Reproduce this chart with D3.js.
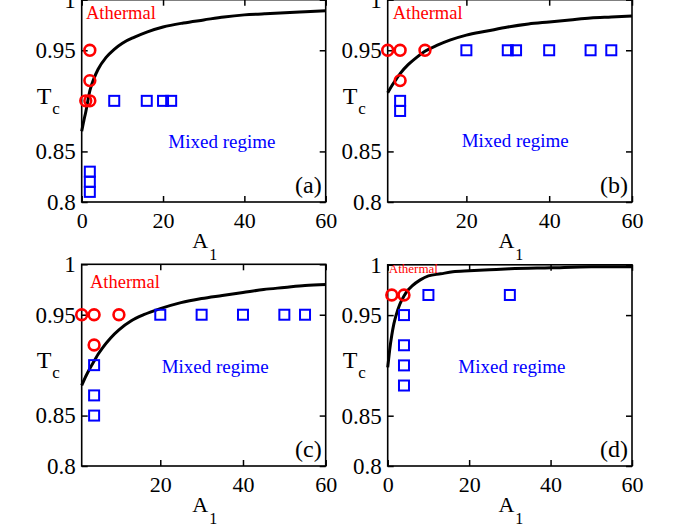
<!DOCTYPE html>
<html>
<head>
<meta charset="utf-8">
<script src="https://cdn.jsdelivr.net/npm/d3@7"></script>
<style>
  html, body { margin: 0; padding: 0; background: #fff; }
  svg { display: block; }
  text { font-family: "Liberation Serif", "Times New Roman", serif; }
</style>
</head>
<body>
<svg id="chart" width="681" height="526"></svg>
<script>
// ---------- data ----------
const panelLabels = ["(a)", "(b)", "(c)", "(d)"];
const xTicksFull = [0, 20, 40, 60];
const xTicksNoZero = [20, 40, 60];
const yTicks = [0.8, 0.85, 0.95, 1];
const yTickLabels = ["0.8", "0.85", "0.95", "1"];

// panel (a)
const athermA_a = [1, 2, 2, 2];
const athermT_a = [0.90, 0.90, 0.92, 0.95];
const mixedA_a = [8, 16, 20, 22, 2, 2, 2];
const mixedT_a = [0.90, 0.90, 0.90, 0.90, 0.83, 0.82, 0.81];
const curveA_a = [0, 0.5, 1, 2, 3, 4, 6, 8, 10, 13, 16, 20, 25, 30, 35, 40, 45, 50, 55, 60];
const curveT_a = [0.870, 0.880, 0.889, 0.910, 0.922, 0.931, 0.943, 0.951, 0.957, 0.963, 0.968, 0.973, 0.977, 0.980, 0.983, 0.985, 0.986, 0.987, 0.988, 0.989];

// panel (b)
const athermA_b = [1, 4, 10, 4];
const athermT_b = [0.95, 0.95, 0.95, 0.92];
const mixedA_b = [4, 4, 20, 30, 32, 40, 50, 55];
const mixedT_b = [0.90, 0.89, 0.95, 0.95, 0.95, 0.95, 0.95, 0.95];
const curveA_b = [1, 2, 3, 4, 6, 8, 10, 13, 16, 20, 25, 30, 35, 40, 45, 50, 55, 60];
const curveT_b = [0.908, 0.915, 0.921, 0.927, 0.936, 0.943, 0.949, 0.955, 0.960, 0.965, 0.969, 0.973, 0.976, 0.978, 0.980, 0.982, 0.983, 0.984];

// panel (c)
const athermA_c = [1, 4, 10, 4];
const athermT_c = [0.95, 0.95, 0.95, 0.92];
const mixedA_c = [4, 4, 4, 20, 30, 40, 50, 55];
const mixedT_c = [0.90, 0.87, 0.85, 0.95, 0.95, 0.95, 0.95, 0.95];
const curveA_c = [1, 2, 3, 4, 5, 6, 8, 10, 13, 16, 20, 25, 30, 35, 40, 45, 50, 55, 60];
const curveT_c = [0.880, 0.889, 0.897, 0.904, 0.911, 0.917, 0.927, 0.935, 0.944, 0.950, 0.956, 0.962, 0.966, 0.969, 0.972, 0.975, 0.977, 0.979, 0.980];

// panel (d)
const athermA_d = [1, 4];
const athermT_d = [0.97, 0.97];
const mixedA_d = [4, 4, 4, 4, 10, 30];
const mixedT_d = [0.95, 0.92, 0.90, 0.88, 0.97, 0.97];
const curveA_d = [0, 0.25, 0.5, 1, 1.5, 2, 3, 4, 5, 6, 8, 10, 13, 16, 20, 25, 30, 40, 50, 60];
const curveT_d = [0.898, 0.907, 0.916, 0.930, 0.941, 0.949, 0.961, 0.969, 0.975, 0.979, 0.985, 0.989, 0.991, 0.993, 0.994, 0.995, 0.996, 0.997, 0.998, 0.998];

// ---------- layout ----------
const panels = [
  { label: panelLabels[0], L: 81.7, R: 325.7, T: -0.3, B: 202, xmin: 0, xt: xTicksFull,
    aA: athermA_a, aT: athermT_a, mA: mixedA_a, mT: mixedT_a, cA: curveA_a, cT: curveT_a,
    ath: { x: 86, y: 19.3, size: 18.5 }, mix: { x: 168.3, y: 148.3 } },
  { label: panelLabels[1], L: 387.7, R: 632, T: -0.3, B: 202, xmin: 1, xt: xTicksNoZero,
    aA: athermA_b, aT: athermT_b, mA: mixedA_b, mT: mixedT_b, cA: curveA_b, cT: curveT_b,
    ath: { x: 392.7, y: 19.3, size: 18.5 }, mix: { x: 461.7, y: 146.7 } },
  { label: panelLabels[2], L: 81.7, R: 325.7, T: 264.3, B: 466, xmin: 1, xt: xTicksNoZero,
    aA: athermA_c, aT: athermT_c, mA: mixedA_c, mT: mixedT_c, cA: curveA_c, cT: curveT_c,
    ath: { x: 90, y: 287.7, size: 18.5 }, mix: { x: 161.7, y: 372.5 } },
  { label: panelLabels[3], L: 387.7, R: 632, T: 264.8, B: 466, xmin: 0, xt: xTicksFull,
    aA: athermA_d, aT: athermT_d, mA: mixedA_d, mT: mixedT_d, cA: curveA_d, cT: curveT_d,
    ath: { x: 388.8, y: 272.5, size: 13 }, mix: { x: 458.3, y: 373.3 } }
];

const svg = d3.select("#chart");
const RED = "#ff0000", BLUE = "#0000ff";

panels.forEach(p => {
  const x = d3.scaleLinear().domain([p.xmin, 60]).range([p.L, p.R]);
  const y = d3.scaleLinear().domain([0.8, 1]).range([p.B, p.T]);
  const g = svg.append("g");

  // axes (ticks inward)
  const left = g.append("g").attr("transform", `translate(${p.L},0)`)
    .call(d3.axisLeft(y).tickValues(yTicks).tickSizeInner(-6).tickSizeOuter(0).tickPadding(6)
      .tickFormat((d, i) => yTickLabels[i]));
  const right = g.append("g").attr("transform", `translate(${p.R},0)`)
    .call(d3.axisRight(y).tickValues(yTicks).tickSizeInner(-6).tickSizeOuter(0).tickFormat(""));
  const bottom = g.append("g").attr("transform", `translate(0,${p.B})`)
    .call(d3.axisBottom(x).tickValues(p.xt).tickSizeInner(-6).tickSizeOuter(0).tickPadding(10)
      .tickFormat(d3.format("d")));
  const top = g.append("g").attr("transform", `translate(0,${p.T})`)
    .call(d3.axisTop(x).tickValues(p.xt).tickSizeInner(-6).tickSizeOuter(0).tickFormat(""));
  [left, right, bottom, top].forEach(a => {
    a.select(".domain").remove();
    a.selectAll(".tick line").attr("stroke", "#000").attr("stroke-width", 1.5);
  });
  left.selectAll(".tick text").attr("font-size", 23).attr("fill", "#000")
    .attr("font-family", "Liberation Serif");
  bottom.selectAll(".tick text").attr("font-size", 22).attr("fill", "#000")
    .attr("font-family", "Liberation Serif").attr("dy", "0.71em");

  // frame
  g.append("rect").attr("x", p.L).attr("y", p.T).attr("width", p.R - p.L).attr("height", p.B - p.T)
    .attr("fill", "none").attr("stroke", "#000").attr("stroke-width", 1.6);

  // axis titles
  const yl = g.append("text").attr("x", p.L - 45).attr("y", y(0.9) + 3)
    .attr("font-size", 24).attr("fill", "#000");
  yl.append("tspan").text("T");
  yl.append("tspan").attr("dx", 1).attr("dy", 10).attr("font-size", 17).text("c");

  const xl = g.append("text").attr("x", (p.L + p.R) / 2 + 1).attr("y", p.B + 46)
    .attr("text-anchor", "middle").attr("font-size", 22).attr("fill", "#000");
  xl.append("tspan").text("A");
  xl.append("tspan").attr("dx", 1).attr("dy", 12).attr("font-size", 16).text("1");

  // curve
  const line = d3.line().x(d => x(d[0])).y(d => y(d[1])).curve(d3.curveMonotoneX);
  g.append("path").datum(p.cA.map((a, i) => [a, p.cT[i]]))
    .attr("d", line).attr("fill", "none").attr("stroke", "#000").attr("stroke-width", 3);

  // mixed regime squares
  const s = 10;
  g.selectAll("rect.sq").data(p.mA.map((a, i) => [a, p.mT[i]])).enter().append("rect")
    .attr("class", "sq")
    .attr("x", d => x(d[0]) - s / 2).attr("y", d => y(d[1]) - s / 2)
    .attr("width", s).attr("height", s)
    .attr("fill", "none").attr("stroke", BLUE).attr("stroke-width", 2);

  // athermal circles
  g.selectAll("circle.ci").data(p.aA.map((a, i) => [a, p.aT[i]])).enter().append("circle")
    .attr("class", "ci")
    .attr("cx", d => x(d[0])).attr("cy", d => y(d[1])).attr("r", 5.4)
    .attr("fill", "none").attr("stroke", RED).attr("stroke-width", 2.6);

  // region labels
  g.append("text").attr("x", p.ath.x).attr("y", p.ath.y).attr("font-size", p.ath.size)
    .attr("fill", RED).text("Athermal");
  g.append("text").attr("x", p.mix.x).attr("y", p.mix.y).attr("font-size", 19)
    .attr("fill", BLUE).text("Mixed regime");

  // panel label
  g.append("text").attr("x", p.R - 4).attr("y", p.B - 9).attr("text-anchor", "end")
    .attr("font-size", 24).attr("fill", "#000").text(p.label);
});
</script>
</body>
</html>
